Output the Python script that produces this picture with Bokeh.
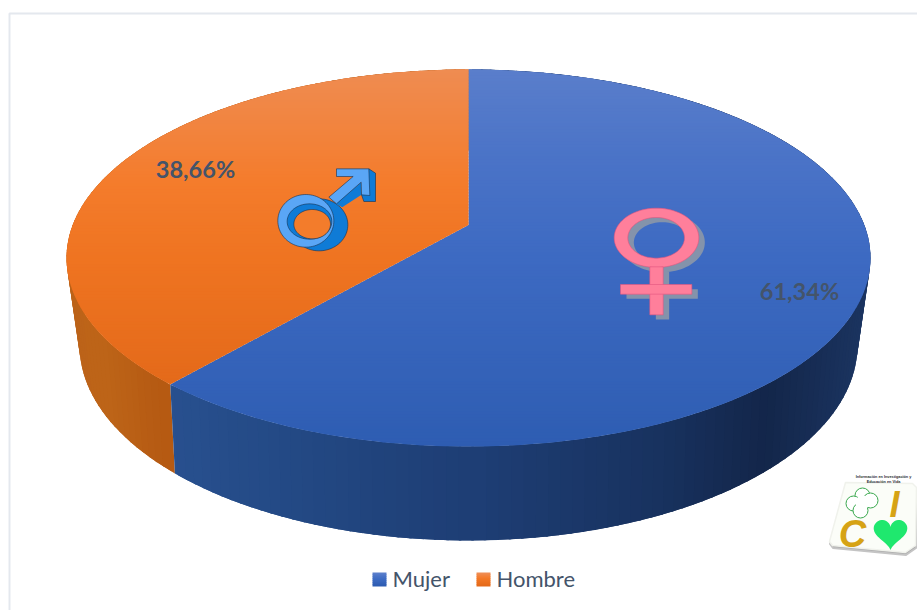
import numpy as np
from bokeh.plotting import figure
from bokeh.models import Range1d
from bokeh.core.properties import value
from bokeh.embed import file_html
from bokeh.resources import INLINE

categories = ["Mujer", "Hombre"]
shares = [61.34, 38.66]
labels = ["61,34%", "38,66%"]

FONT = "Lato"
INK = "#44546a"

p = figure(width=917, height=610, x_range=Range1d(0, 917), y_range=Range1d(610, 0),
           output_backend="svg", toolbar_location=None, min_border=0,
           background_fill_color="white", border_fill_color="white")
p.axis.visible = False
p.grid.visible = False
p.outline_line_color = None

# chart frame
p.line([9, 9, 917], [610, 13, 13], line_color="#e4e8ee", line_width=2)


def hex2rgb(h):
    return np.array([int(h[i:i + 2], 16) for i in (1, 3, 5)], float)


def ramp(pos, stops):
    xs = [s[0] for s in stops]
    rgb = [np.interp(pos, xs, [hex2rgb(s[1])[k] for s in stops]) for k in range(3)]
    return "#%02x%02x%02x" % tuple(int(round(c)) for c in rgb)


def project(theta, cx, cy, rx, ry, c):
    """Perspective view of a unit disc, theta clockwise from 12 o'clock."""
    u, v = np.sin(theta), -np.cos(theta)
    return project_uv(u, v, cx, cy, rx, ry, c)


def project_uv(u, v, cx, cy, rx, ry, c):
    d = rx * np.sqrt(1 - c * c)
    den = 1 + c * v
    return cx + d * u / den, cy + ry * (v + c) / den


TOP = dict(cx=468, cy=257.5, rx=402, ry=188.5, c=-0.175)
BOT = dict(cx=468, cy=345, rx=389, ry=195, c=-0.20)

fracs = np.array(shares) / sum(shares)
edges = np.concatenate([[0], np.cumsum(fracs)]) * 2 * np.pi

side_stops = [
    [(175, "#28508f"), (300, "#234984"), (468, "#1e3e75"), (650, "#18325f"), (760, "#13264a"), (860, "#1b3460")],
    [(70, "#bc6319"), (110, "#bd6418"), (170, "#b55912")],
]
top_stops = [
    [(69, "#5a7ecb"), (160, "#4a73c7"), (257, "#3d6ac2"), (446, "#2e5db2")],
    [(69, "#ef8c52"), (180, "#f47c2c"), (257, "#ef7421"), (383, "#e46a1a")],
]

# side wall, painted from back to front; neighbouring strips overlap to hide seams
strips = []
for i in range(2):
    n = max(2, int((edges[i + 1] - edges[i]) / np.radians(1.5)))
    t = np.linspace(edges[i], edges[i + 1], n + 1)
    step = t[1] - t[0]
    for a, b in zip(t[:-1], t[1:]):
        a2 = max(a - step * 0.6, edges[i])
        b2 = min(b + step * 0.6, edges[i + 1])
        x1, y1 = project(np.array([a2, b2]), **TOP)
        x2, y2 = project(np.array([b2, a2]), **BOT)
        depth = -np.cos((a + b) / 2)
        strips.append((depth, list(x1) + list(x2), list(y1) + list(y2),
                       ramp((x1.mean() + x2.mean()) / 2, side_stops[i])))
strips.sort(key=lambda s: s[0])
p.patches([s[1] for s in strips], [s[2] for s in strips], fill_color=[s[3] for s in strips], line_color=None)


def clip(pts, y0, keep_below):
    out = []
    for k in range(len(pts)):
        a, b = pts[k], pts[(k + 1) % len(pts)]
        ina = a[1] >= y0 if keep_below else a[1] <= y0
        inb = b[1] >= y0 if keep_below else b[1] <= y0
        if ina:
            out.append(a)
        if ina != inb:
            f = (y0 - a[1]) / (b[1] - a[1])
            out.append((a[0] + f * (b[0] - a[0]), y0))
    return out


# top face, one slice at a time, shaded in thin horizontal bands
apex = project_uv(0.0, 0.0, **TOP)
for i in range(2):
    t = np.linspace(edges[i], edges[i + 1], 240)
    ex, ey = project(t, **TOP)
    poly = [apex] + list(zip(ex, ey))
    bx, by, bc = [], [], []
    for y0 in np.arange(66, 450, 3):
        piece = clip(clip(poly, y0, True), y0 + 3.8, False)
        if len(piece) >= 3:
            bx.append([q[0] for q in piece])
            by.append([q[1] for q in piece])
            bc.append(ramp(y0 + 1.5, top_stops[i]))
    p.patches(bx, by, fill_color=bc, line_color=None)


def ell(cx, cy, rx, ry, n=90):
    a = np.linspace(0, 2 * np.pi, n, endpoint=False)
    return list(cx + rx * np.cos(a)), list(cy + ry * np.sin(a))


# ---- male symbol
def m(x, y):
    return [260 + q / 3 for q in x], [150 + q / 3 for q in y]


def r(x, y):
    return [270 + q / 3 for q in x], [185 + q / 3 for q in y]


LIGHT, DARK, OUT = "#5aa6f6", "#0f7bd6", "#16304f"
sx, sy = r(*ell(146, 118, 86, 78))
p.patch(sx, sy, fill_color=DARK, line_color=OUT, line_width=0.6)
sx, sy = m([325, 345, 345, 310, 303], [55, 68, 153, 153, 133])
p.patch(sx, sy, fill_color=DARK, line_color=OUT, line_width=0.6)
sx, sy = m([302, 303, 245, 225], [95, 133, 170, 160])
p.patch(sx, sy, fill_color=DARK, line_color=None)
sx, sy = r(*ell(106, 106, 84, 79))
p.patch(sx, sy, fill_color=LIGHT, line_color=OUT, line_width=0.6)
sx, sy = r(*ell(117, 108, 67, 53))
p.patch(sx, sy, fill_color=DARK, line_color=OUT, line_width=0.6)
sx, sy = r(*ell(125, 116, 55, 44))
p.patch(sx, sy, fill_color="#f37c2b", line_color=OUT, line_width=0.6)
sx, sy = m([228, 325, 328, 303, 302, 228, 205, 278, 228], [55, 55, 135, 133, 95, 160, 140, 78, 78])
p.patch(sx, sy, fill_color=LIGHT, line_color=OUT, line_width=0.6)


# ---- female symbol
def f(x, y):
    return [600 + q / 3 for q in x], [195 + q / 3 for q in y]


def venus(dx, dy, fill, line):
    ox, oy = f(*ell(168 + dx, 127 + dy, 127, 89))
    ix, iy = f(*ell(167 + dx, 127 + dy, 85, 61))
    p.multi_polygons([[[ox, ix]]], [[[oy, iy]]], fill_color=fill, line_color=line, line_width=0.6)
    for bx, by in (([148, 188, 188, 148], [214, 214, 358, 358]), ([60, 274, 274, 60], [267, 267, 296, 296])):
        qx, qy = f([v + dx for v in bx], [v + dy for v in by])
        p.patch(qx, qy, fill_color=fill, line_color=line, line_width=0.6)


venus(18, 14, "#8493ab", None)
venus(0, 0, "#ff7f9b", "#e2557f")

# value labels
p.text([799, 195], [290, 168], text=labels, text_font=value(FONT), text_font_style="bold", text_font_size="23.5px",
       text_color=INK, text_align="center", text_baseline="middle")

# legend
swatches = [(372, 392, top_stops[0]), (476, 496, top_stops[1])]
for cat, (x0, tx, st) in zip(categories, swatches):
    for k in range(7):
        p.quad(left=x0, right=x0 + 14, top=572 + 2 * k, bottom=574 + 2 * k + (0.5 if k < 6 else 0),
               fill_color=ramp(st[0][0] + (st[-1][0] - st[0][0]) * k / 6, st), line_color=None)
    p.text([tx], [578], text=[cat], text_font=value(FONT), text_font_size="22px", text_color=INK,
           text_align="left", text_baseline="middle")

# logo card
card_x = [845, 912, 916, 915, 905, 832, 829]
card_y = [482, 483, 487, 545, 552, 545, 541]
p.patch([v + 0.5 for v in card_x], [v + 2.5 for v in card_y], fill_color="#8f8f8f", fill_alpha=0.75, line_color="#c4c4c4",
        line_width=2, line_join="round")
p.patch(card_x, card_y, fill_color="#fbfdf8", line_color="#f0f2ec", line_width=1.5, line_join="round")
p.text([883, 883], [476, 481.5], text=["Información en Investigación y", "Educación en Vida"], text_font=value("Liberation Sans"),
       text_font_style="bold", text_font_size="3.8px", text_color="#2a2c30", text_align="center", text_baseline="middle")
lobes = [(862, 495), (853, 503), (870, 500), (860, 510)]
p.scatter([q[0] for q in lobes], [q[1] for q in lobes], size=15, marker="circle", fill_color="white",
          line_color="#3aa84e", line_width=1)
p.scatter([862], [502], size=14, marker="circle", fill_color="white", line_color=None)
a = np.linspace(0, 2 * np.pi, 80)
hx = 16 * np.sin(a) ** 3
hy = 13 * np.cos(a) - 5 * np.cos(2 * a) - 2 * np.cos(3 * a) - np.cos(4 * a)
p.patch(list(890 + hx * 1.05), list(532 - hy * 1.05), fill_color="#1fe86e", line_color=None)
p.text([894], [504], text=["I"], text_font=value("Liberation Sans"), text_font_style="bold italic", text_font_size="36px",
       text_color="#d6a315", text_align="center", text_baseline="middle")
p.text([852], [533], text=["C"], text_font=value("Liberation Sans"), text_font_style="bold italic", text_font_size="38px",
       text_color="#d6a315", text_align="center", text_baseline="middle")

open("out.html", "w").write(file_html(p, INLINE))
